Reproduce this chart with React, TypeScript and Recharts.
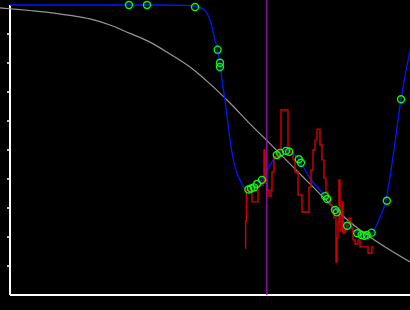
import React from 'react';
import { ComposedChart, Line, Scatter, XAxis, YAxis, ReferenceLine } from 'recharts';

// Smooth gray sigmoid
const grayX = [-0.25, 0, 0.5, 1, 1.5, 2, 2.5, 3, 3.5, 4, 4.5, 5, 5.5, 6, 6.5, 7, 7.5, 8, 8.5, 9, 9.5, 10];
const grayY = [9.9, 9.87, 9.81, 9.74, 9.64, 9.52, 9.31, 9.02, 8.72, 8.31, 7.86, 7.28, 6.62, 5.9, 5.22, 4.52, 3.83, 3.14, 2.52, 2.0, 1.55, 1.14];

// Blue fitted curve
const blueX = [0, 2.975, 3.425, 4.375, 4.625, 4.75, 4.925, 5.05, 5.125, 5.19, 5.25, 5.31, 5.375, 5.46, 5.54, 5.625, 5.75, 5.9, 6.0, 6.125, 6.3, 6.5, 6.675, 6.9, 7.075, 7.275, 7.5, 7.875, 8.15, 8.425, 8.675, 8.85, 9.05, 9.2, 9.4, 9.575, 9.775, 10];
const blueY = [10, 10, 10, 9.99, 9.95, 9.91, 9.72, 9.24, 8.79, 8.47, 7.97, 7.31, 6.72, 5.79, 5.0, 4.41, 3.97, 3.62, 3.64, 3.76, 3.97, 4.48, 4.83, 5.0, 4.9, 4.55, 4.03, 3.41, 2.9, 2.38, 2.14, 2.03, 2.14, 2.52, 3.28, 4.76, 6.76, 8.41];

// Red noisy step series
const redX = [5.875, 5.89, 5.91, 6.05, 6.2, 6.325, 6.35, 6.375, 6.425, 6.475, 6.525, 6.55, 6.6, 6.725, 6.775, 6.95, 7.0, 7.075, 7.125, 7.2, 7.3, 7.475, 7.525, 7.575, 7.625, 7.675, 7.75, 7.8, 7.85, 7.9, 7.95, 8.0, 8.05, 8.1, 8.15, 8.175, 8.2, 8.225, 8.25, 8.3, 8.325, 8.375, 8.425, 8.475, 8.525, 8.575, 8.625, 8.7, 8.75, 8.95, 9.05, 9.1];
const redY = [1.62, 2.55, 3.62, 3.21, 3.79, 3.9, 5.0, 3.97, 3.62, 3.41, 3.62, 4.24, 4.76, 5.0, 6.38, 5.07, 4.9, 4.66, 4.24, 3.45, 2.86, 3.72, 4.31, 5.0, 5.34, 5.72, 5.17, 4.66, 4.03, 3.55, 3.28, 3.1, 2.93, 2.66, 1.14, 1.97, 2.52, 3.97, 2.21, 3.21, 2.14, 2.24, 2.41, 2.66, 2.31, 1.9, 1.76, 1.9, 1.66, 1.45, 1.66, 1.66];

// Green markers
const markX = [2.975, 3.425, 4.625, 5.19, 5.25, 5.25, 5.96, 6.025, 6.1, 6.175, 6.3, 6.67, 6.75, 6.9, 6.98, 7.22, 7.275, 7.875, 7.93, 8.125, 8.17, 8.43, 8.68, 8.79, 8.86, 8.92, 9.04, 9.42, 9.775];
const markY = [10, 10, 9.93, 8.46, 8.01, 7.86, 3.64, 3.67, 3.71, 3.83, 3.97, 4.83, 4.9, 4.97, 4.94, 4.68, 4.56, 3.41, 3.31, 2.93, 2.85, 2.39, 2.13, 2.07, 2.04, 2.07, 2.15, 3.25, 6.75];

const xTicks = [1, 2, 3, 4, 5, 6, 7, 8, 9];
const yTicks = [1, 2, 3, 4, 5, 6, 7, 8, 9];
const cursorX = 6.42;

const zip = (xs: number[], ys: number[]) => xs.map((x, i) => ({ x, y: ys[i] }));

const grayData = zip(grayX, grayY);
const blueData = zip(blueX, blueY);
const redData = zip(redX, redY);
const markData = zip(markX, markY);

const Marker = (props: any) => {
  const { cx, cy } = props;
  return <circle cx={cx} cy={cy} r={3.5} fill="none" stroke="#00ff00" strokeWidth={1.4} />;
};

export default function App() {
  return (
    <div style={{ position: 'absolute', left: 0, top: 0, width: 410, height: 310, background: '#000' }}>
      <ComposedChart width={410} height={310} margin={{ top: 5, right: 0, bottom: 0, left: 0 }}>
        <XAxis
          type="number"
          dataKey="x"
          domain={[-0.25, 10]}
          ticks={xTicks}
          height={15}
          axisLine={false}
          tickLine={{ stroke: '#ffffff', strokeWidth: 1.5 }}
          tickSize={3}
          tick={false}
        />
        <YAxis type="number" dataKey="y" domain={[0, 10]} hide />
        <ReferenceLine segment={[{ x: 0, y: 0 }, { x: 10, y: 0 }]} stroke="#ffffff" strokeWidth={2} />
        <ReferenceLine segment={[{ x: 0, y: 0 }, { x: 0, y: 10 }]} stroke="#ffffff" strokeWidth={2} />
        {yTicks.map((t) => (
          <ReferenceLine key={t} segment={[{ x: -0.075, y: t }, { x: 0, y: t }]} stroke="#ffffff" strokeWidth={1.5} />
        ))}
        <Line data={grayData} dataKey="y" type="monotone" stroke="#969696" strokeWidth={1.2} dot={false} isAnimationActive={false} />
        <Line data={blueData} dataKey="y" type="monotone" stroke="#0018ff" strokeWidth={1.3} dot={false} isAnimationActive={false} />
        <Line data={redData} dataKey="y" type="stepAfter" stroke="#d40000" strokeWidth={1.4} dot={false} isAnimationActive={false} />
        <ReferenceLine
          segment={[{ x: cursorX, y: 0 }, { x: cursorX, y: 10.17 }]}
          ifOverflow="visible"
          stroke="#a010b0"
          strokeWidth={1.3}
        />
        <Scatter data={markData} dataKey="y" shape={Marker} isAnimationActive={false} />
      </ComposedChart>
    </div>
  );
}
